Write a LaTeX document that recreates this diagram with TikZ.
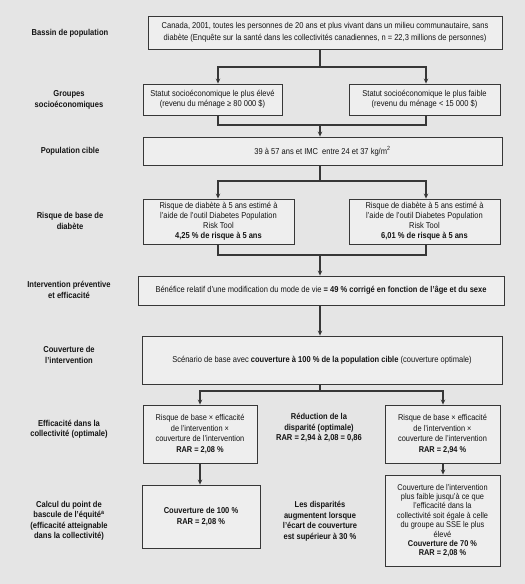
\documentclass[tikz,border=0pt]{standalone}
\usepackage{fontspec}
\setmainfont[FakeStretch=0.88]{Liberation Sans}
\usetikzlibrary{arrows.meta}
\definecolor{bgc}{RGB}{229,229,229}
\definecolor{boxc}{RGB}{238,238,238}
\definecolor{linec}{RGB}{55,55,55}
\definecolor{txtc}{RGB}{20,20,20}
\tikzset{
  box/.style={draw=linec, line width=0.9pt, fill=boxc, inner sep=2pt, align=center, text=txtc,
    font=\fontsize{8.55}{10}\selectfont},
  lab/.style={align=center, text=txtc, font=\bfseries\fontsize{8.6}{10.5}\selectfont},
  mid/.style={align=center, text=txtc, font=\bfseries\fontsize{8.55}{10.5}\selectfont},
  conn/.style={draw=linec, line width=1.1pt},
  arr/.style={conn, -{Stealth[length=5pt,width=4.5pt]}},
}
\begin{document}
\begin{tikzpicture}[x=1pt,y=-1pt]
\useasboundingbox[fill=bgc] (0,0) rectangle (525,584);
% boxes
\node[box, minimum width=354pt, minimum height=33pt, font=\fontsize{8.55}{11.5}\selectfont] (b1) at (325,32.5)
  {Canada, 2001, toutes les personnes de 20 ans et plus vivant dans un milieu communautaire, sans\\
   diabète (Enquête sur la santé dans les collectivités canadiennes, n = 22,3 millions de personnes)};
\node[box, minimum width=139pt, minimum height=31pt] (hi) at (212.5,99.5)
  {Statut socioéconomique le plus élevé\\(revenu du ménage ≥ 80 000 \$)};
\node[box, minimum width=151pt, minimum height=31pt] (lo) at (424.5,99.5)
  {Statut socioéconomique le plus faible\\(revenu du ménage < 15 000 \$)};
\node[box, minimum width=359pt, minimum height=28pt] (pc) at (322.5,151)
  {39 à 57 ans et IMC\ \ entre 24 et 37 kg/m\textsuperscript{2}};
\node[box, minimum width=151pt, minimum height=45pt] (rl) at (218.5,221.5)
  {Risque de diabète à 5 ans estimé à\\l’aide de l’outil Diabetes Population\\Risk Tool\\\textbf{4,25 \% de risque à 5 ans}};
\node[box, minimum width=151pt, minimum height=45pt] (rr) at (424.5,221.5)
  {Risque de diabète à 5 ans estimé à\\l’aide de l’outil Diabetes Population\\Risk Tool\\\textbf{6,01 \% de risque à 5 ans}};
\node[box, minimum width=366pt, minimum height=29pt] (ben) at (321,290.5)
  {Bénéfice relatif d’une modification du mode de vie \textbf{= 49 \% corrigé en fonction de l’âge et du sexe}};
\node[box, minimum width=360pt, minimum height=48pt] (sc) at (322,360)
  {Scénario de base avec \textbf{couverture à 100 \% de la population cible} (couverture optimale)};
\node[box, minimum width=114pt, minimum height=58pt, font=\fontsize{8.4}{10.5}\selectfont] (el) at (200,434)
  {Risque de base × efficacité\\de l’intervention ×\\couverture de l’intervention\\\textbf{RAR = 2,08 \%}};
\node[box, minimum width=115pt, minimum height=58pt, font=\fontsize{8.4}{10.5}\selectfont] (er) at (442.5,434)
  {Risque de base × efficacité\\de l’intervention ×\\couverture de l’intervention\\\textbf{RAR = 2,94 \%}};
\node[box, minimum width=118pt, minimum height=63pt, font=\fontsize{8.55}{11}\selectfont] (cl) at (201,516.5)
  {\textbf{Couverture de 100 \%}\\\textbf{RAR = 2,08 \%}};
\node[box, minimum width=115pt, minimum height=91pt, font=\fontsize{8.4}{9.4}\selectfont] (cr) at (442.5,520.5)
  {Couverture de l’intervention\\plus faible jusqu’à ce que\\l’efficacité dans la\\collectivité soit égale à celle\\du groupe au SSE le plus\\élevé\\\textbf{Couverture de 70 \%}\\\textbf{RAR = 2,08 \%}};
% middle texts
\node[mid] (m1) at (319,428) {Réduction de la\\disparité (optimale)\\RAR = 2,94 à 2,08 = 0,86};
\node[mid] (m2) at (320,521) {Les disparités\\augmentent lorsque\\l’écart de couverture\\est supérieur à 30 \%};
% left labels
\node[lab] (l1) at (70,33) {Bassin de population};
\node[lab] (l2) at (69,100) {Groupes\\socioéconomiques};
\node[lab] (l3) at (70,151) {Population cible};
\node[lab] (l4) at (70,221) {Risque de base de\\diabète};
\node[lab] (l5) at (69,290) {Intervention préventive\\et efficacité};
\node[lab] (l6) at (69,355) {Couverture de\\l’intervention};
\node[lab] (l7) at (69,429) {Efficacité dans la\\collectivité (optimale)};
\node[lab] (l8) at (69,521) {Calcul du point de\\bascule de l’équité\textsuperscript{a}\\(efficacité atteignable\\dans la collectivité)};
% junctions
\coordinate (xl) at (218,0);
\coordinate (xr) at (426,0);
\coordinate (j1) at (320,67);
\coordinate (j2) at (320,125);
\coordinate (j3) at (320,181);
\coordinate (j4) at (320,255);
\coordinate (j5) at (320,391);
\coordinate (xel) at (200,0);
\coordinate (xer) at (443,0);
% connectors
\draw[conn] (b1.south -| j1) -- (j1);
\draw[arr] (j1) -| (hi.north -| xl);
\draw[arr] (j1) -| (lo.north -| xr);
\draw[conn] (hi.south -| xl) |- (j2);
\draw[conn] (lo.south -| xr) |- (j2);
\draw[arr] (j2) -- (pc.north -| j2);
\draw[conn] (pc.south -| j3) -- (j3);
\draw[arr] (j3) -| (rl.north -| xl);
\draw[arr] (j3) -| (rr.north -| xr);
\draw[conn] (rl.south -| xl) |- (j4);
\draw[conn] (rr.south -| xr) |- (j4);
\draw[arr] (j4) -- (ben.north -| j4);
\draw[arr] (ben.south -| j4) -- (sc.north -| j4);
\draw[conn] (sc.south -| j5) -- (j5);
\draw[arr] (j5) -| (el.north -| xel);
\draw[arr] (j5) -| (er.north -| xer);
\draw[arr] (el.south -| xel) -- (cl.north -| xel);
\draw[arr] (er.south -| xer) -- (cr.north -| xer);
\end{tikzpicture}
\end{document}
